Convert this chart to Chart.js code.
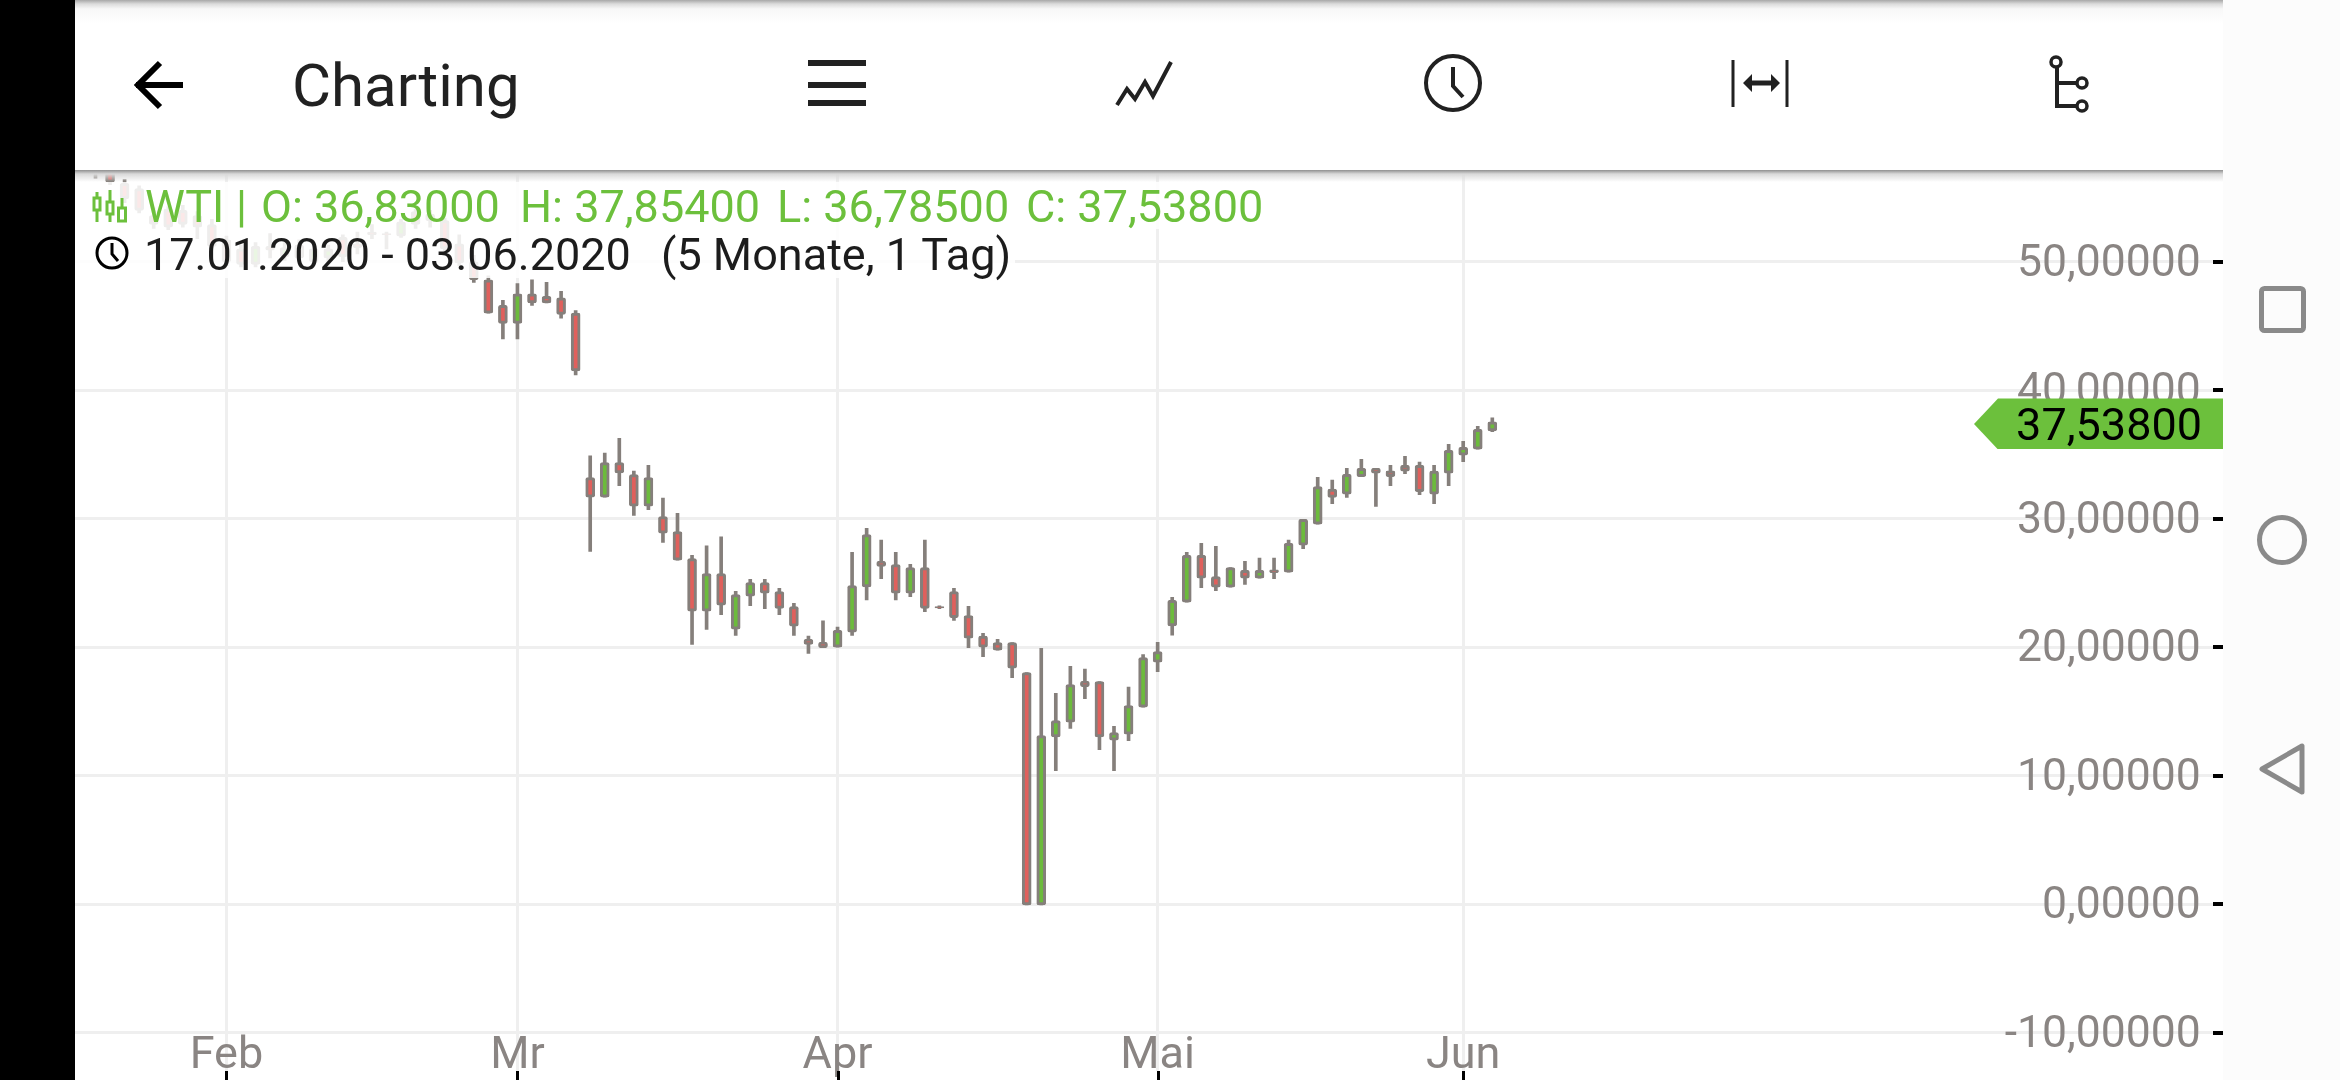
<!DOCTYPE html>
<html lang="de">
<head>
<meta charset="utf-8">
<title>Charting</title>
<script src="https://cdn.jsdelivr.net/npm/chart.js@4"></script>
<style>
html, body { margin: 0; padding: 0; width: 2340px; height: 1080px; overflow: hidden; background: #fff; font-family: Roboto, sans-serif; }
#chart { position: absolute; left: 0; top: 170px; z-index: 1; }
.blackbar { position: absolute; left: 0; top: 0; width: 75px; height: 1080px; background: #000; z-index: 6; }
.nav { position: absolute; left: 2223px; top: 0; width: 117px; height: 1080px; background: #fcfcfc; z-index: 5; }
.toolbar { position: absolute; left: 75px; top: 0; width: 2148px; height: 170px; background: #fff; z-index: 4; }
.topshade { position: absolute; left: 0; top: 0; width: 100%; height: 24px; background: linear-gradient(#a8a8a8 0, #dcdcdc 4px, #f8f8f8 9px, #fff 24px); }
.shadow { position: absolute; left: 75px; top: 170px; width: 2148px; height: 12px; background: linear-gradient(#8f8f8f, #d9d9d9 4px, rgba(255,255,255,0)); z-index: 4; }
.title { position: absolute; left: 217px; top: 51px; font-size: 60px; line-height: 70px; color: #212121; }
.row { position: absolute; left: 75px; background: rgba(255,255,255,0.86); z-index: 3; }
.txt { position: absolute; font-size: 45px; line-height: 50px; white-space: pre; z-index: 3; }
.green { color: #6cc03c; }
.dark { color: #1c1c1c; }
svg { position: absolute; overflow: visible; }
#tag { position: absolute; left: 1974px; width: 249px; height: 51px; background: #6cc03c; z-index: 3;
  clip-path: polygon(0 50%, 24px 0, 100% 0, 100% 100%, 24px 100%); }
#tag span { position: absolute; right: 21px; top: 1px; font-size: 45px; line-height: 51px; color: #000; }
</style>
</head>
<body>
<canvas id="chart" width="2223" height="910"></canvas>

<div class="row" style="top:182px;width:1190px;height:47px"></div>
<div class="row" style="top:229px;width:940px;height:49px"></div>
<div class="shadow"></div>

<div class="txt green" style="left:145px;top:182px">WTI</div>
<div class="txt green" style="left:236px;top:182px">|</div>
<div class="txt green" style="left:261px;top:182px">O: 36,83000</div>
<div class="txt green" style="left:520px;top:182px">H: 37,85400</div>
<div class="txt green" style="left:777px;top:182px">L: 36,78500</div>
<div class="txt green" style="left:1026px;top:182px">C: 37,53800</div>
<div class="txt dark" style="left:144px;top:230px">17.01.2020 - 03.06.2020</div>
<div class="txt dark" style="left:661px;top:230px">(5 Monate, 1 Tag)</div>

<!-- legend icons -->
<svg style="left:0;top:0;z-index:3" width="200" height="280" fill="none">
  <g stroke="#6cc03c" stroke-width="3">
    <path d="M97 192v30M110 190v32M122 198v24"/>
    <rect x="94" y="198" width="6" height="12" fill="#fff"/>
    <rect x="107" y="202" width="6" height="12" fill="#fff"/>
    <rect x="118.500" y="208" width="7" height="13" fill="#fff"/>
  </g>
  <circle cx="112" cy="253" r="15" stroke="#000" stroke-width="3"/>
  <path d="M112 243v11l6 7" stroke="#000" stroke-width="3"/>
</svg>

<div id="tag"><span id="tagText"></span></div>

<div class="toolbar">
  <div class="topshade"></div>
  <div class="title">Charting</div>
</div>
<svg style="left:0;top:0;z-index:4" width="2223" height="170" fill="none" stroke="#212121">
  <path d="M136 85h47M160 63l-22 22 22 22" stroke="#000" stroke-width="6"/>
  <path d="M808 63h58M808 85h58M808 103h58" stroke-width="6"/>
  <path d="M1117 105l10-16 8 10 10-17 8 14 18-34" stroke-width="4"/>
  <circle cx="1453" cy="83" r="27" stroke-width="4"/>
  <path d="M1453 67v19l10 11" stroke-width="4"/>
  <path d="M1733 60v47M1787 60v47" stroke-width="3"/>
  <path d="M1746 83h31" stroke-width="5"/>
  <path d="M1752 74l-9 9 9 9zM1771 74l9 9-9 9z" fill="#212121" stroke="none"/>
  <circle cx="2056" cy="62" r="5" stroke-width="3.500"/>
  <path d="M2057 68v38h20M2057 83h20" stroke-width="4"/>
  <circle cx="2082" cy="83" r="5" stroke-width="3.500"/>
  <circle cx="2082" cy="106" r="5" stroke-width="3.500"/>
</svg>

<div class="blackbar"></div>
<div class="nav"></div>
<svg style="left:0;top:0;z-index:6" width="2340" height="1080" fill="none" stroke="#8a8a8a" stroke-width="5" stroke-linejoin="round">
  <rect x="2261.500" y="288.500" width="42" height="42" rx="3"/>
  <circle cx="2282" cy="540" r="22.500"/>
  <path d="M2262 769l40-23v46z"/>
</svg>

<script>
// --- Data (daily candles) ---
const dates = [
  '17.01.', '20.01.', '21.01.', '22.01.', '23.01.', '24.01.', '27.01.', '28.01.', '29.01.', '30.01.', '31.01.',
  '03.02.', '04.02.', '05.02.', '06.02.', '07.02.', '10.02.', '11.02.', '12.02.', '13.02.', '14.02.',
  '17.02.', '18.02.', '19.02.', '20.02.', '21.02.', '24.02.', '25.02.', '26.02.', '27.02.', '28.02.',
  '02.03.', '03.03.', '04.03.', '05.03.', '06.03.', '09.03.', '10.03.', '11.03.', '12.03.', '13.03.',
  '16.03.', '17.03.', '18.03.', '19.03.', '20.03.', '23.03.', '24.03.', '25.03.', '26.03.', '27.03.', '30.03.', '31.03.',
  '01.04.', '02.04.', '03.04.', '06.04.', '07.04.', '08.04.', '09.04.', '10.04.', '13.04.', '14.04.', '15.04.', '16.04.', '17.04.',
  '20.04.', '21.04.', '22.04.', '23.04.', '24.04.', '27.04.', '28.04.', '29.04.', '30.04.',
  '01.05.', '04.05.', '05.05.', '06.05.', '07.05.', '08.05.', '11.05.', '12.05.', '13.05.', '14.05.', '15.05.',
  '18.05.', '19.05.', '20.05.', '21.05.', '22.05.', '25.05.', '26.05.', '27.05.', '28.05.', '29.05.',
  '01.06.', '02.06.', '03.06.'
];
const opens = [
  58.5, 58.5, 58.4, 58.3, 56.1, 55.7, 53.6, 54.1, 54.0, 53.6, 52.9,
  51.7, 51.0, 49.8, 51.2, 50.4, 51.3, 50.0, 50.3, 51.9, 51.4,
  52.3, 52.2, 52.0, 53.9, 53.7, 53.2, 51.4, 50.0, 48.6, 46.6,
  45.2, 47.5, 47.3, 47.2, 46.0, 33.20, 31.67, 34.37, 33.44, 30.97,
  30.17, 29.0, 26.90, 22.80, 25.73, 21.40, 23.97, 25.03, 24.33, 23.16, 20.62, 20.39,
  20.0, 21.17, 24.70, 26.69, 26.43, 24.20, 26.20, 23.16, 24.33, 22.46, 20.86, 20.36, 20.36,
  18.03, -0.05, 13.02, 14.16, 17.35, 17.33, 12.76, 13.23, 15.33,
  18.83, 21.66, 23.50, 27.16, 25.50, 24.67, 25.99, 25.37, 26.02, 25.84, 27.94,
  29.57, 32.30, 31.91, 33.28, 33.93, 33.72, 34.16, 34.16, 31.91, 33.54,
  34.94, 35.41, 36.83
];
const highs = [
  59.0, 58.9, 58.7, 58.5, 56.4, 55.9, 54.2, 54.3, 54.4, 53.9, 53.3,
  52.0, 51.3, 51.5, 52.2, 51.5, 51.7, 51.4, 51.3, 52.1, 52.3,
  52.9, 52.3, 53.3, 54.1, 54.0, 53.4, 52.1, 50.5, 48.9, 47.0,
  48.3, 48.6, 48.4, 47.7, 46.2, 34.89, 35.10, 36.26, 33.70, 34.16,
  31.60, 30.43, 27.16, 27.89, 28.59, 24.36, 25.29, 25.29, 24.59, 23.42, 20.86, 22.05,
  21.56, 27.39, 29.26, 28.33, 27.39, 26.46, 28.33, 23.22, 24.59, 23.19, 21.09, 20.62, 20.36,
  18.03, 19.92, 16.42, 18.52, 18.29, 17.33, 13.85, 16.89, 19.43,
  20.38, 23.88, 27.39, 28.09, 27.86, 26.20, 26.69, 26.93, 26.93, 28.33, 29.96,
  33.23, 33.00, 33.93, 34.63, 33.93, 34.16, 34.86, 34.40, 34.16, 35.80,
  36.03, 37.20, 37.854
];
const lows = [
  58.0, 58.2, 56.5, 56.0, 54.6, 53.8, 52.6, 52.5, 52.7, 51.8, 50.9,
  49.7, 49.6, 49.6, 50.3, 50.1, 50.1, 49.8, 49.9, 50.0, 50.6,
  51.8, 51.0, 51.9, 52.6, 52.7, 50.8, 49.7, 48.4, 46.0, 44.0,
  44.0, 46.6, 46.8, 45.6, 41.2, 27.45, 31.67, 32.58, 30.25, 30.71,
  28.15, 26.77, 20.21, 21.38, 22.54, 20.91, 23.24, 23.01, 22.54, 20.91, 19.51, 19.97,
  20.0, 20.91, 23.68, 25.34, 23.68, 23.94, 22.77, 23.01, 22.08, 19.97, 19.27, 19.77, 17.64,
  -0.05, -0.05, 10.40, 13.69, 16.0, 12.03, 10.40, 12.73, 15.33,
  18.10, 20.93, 23.50, 24.64, 24.41, 24.67, 24.88, 25.37, 25.34, 25.84, 27.68,
  29.57, 31.18, 31.65, 33.28, 30.95, 32.58, 33.51, 31.88, 31.18, 32.58,
  34.45, 35.41, 36.785
];
const closes = [
  58.6, 58.4, 58.3, 56.2, 54.9, 54.0, 52.9, 52.7, 52.9, 52.7, 51.2,
  50.0, 49.8, 51.2, 50.9, 51.1, 50.3, 51.0, 51.0, 50.4, 51.1,
  52.1, 52.1, 53.1, 52.9, 53.2, 51.0, 49.9, 48.6, 46.0, 45.2,
  47.5, 46.8, 46.8, 45.9, 41.5, 31.67, 34.37, 33.57, 30.97, 33.20,
  28.87, 26.77, 22.80, 25.73, 23.27, 24.10, 25.03, 24.20, 23.03, 21.63, 20.21, 19.97,
  21.32, 24.80, 28.77, 26.28, 24.20, 26.20, 23.03, 23.06, 22.31, 20.70, 20.0, 19.77, 18.37,
  -0.05, 13.12, 14.29, 17.09, 16.94, 13.02, 13.36, 15.46, 19.19,
  19.66, 23.65, 27.16, 25.37, 24.67, 26.20, 25.37, 25.99, 25.81, 28.09, 29.96,
  32.50, 31.65, 33.46, 33.93, 33.54, 33.28, 33.70, 32.11, 33.70, 35.33,
  35.56, 36.96, 37.538
];
const yTickValues = [-10, 0, 10, 20, 30, 40, 50];
const monthDates = ['03.02.', '02.03.', '01.04.', '01.05.', '01.06.'];
const monthLabels = ['Feb', 'Mr', 'Apr', 'Mai', 'Jun'];

const emptySlots = 50; // room right of the last candle

// --- Colours ---
const UP = '#6cbb3c';
const DOWN = '#e0605c';
const EDGE = '#857f7b';
const GRID = '#efefef';
const LABEL = '#8a8583';

const fmt = v => v.toFixed(5).replace('.', ',');
const labels = dates.concat(new Array(emptySlots).fill(''));

// --- Small tick marks and the price tag ---
const marksPlugin = {
    id: 'marks',
    afterDraw(chart) {
        const ctx = chart.ctx;
        const w = chart.width, h = chart.height;
        ctx.save();
        ctx.fillStyle = '#000';
        chart.scales.y.ticks.forEach(t => {
            const y = chart.scales.y.getPixelForValue(t.value);
            ctx.fillRect(w - 10, Math.round(y) - 2, 10, 4);
        });
        chart.scales.x.ticks.forEach(t => {
            const x = chart.scales.x.getPixelForValue(t.value);
            ctx.fillRect(Math.round(x) - 1, h - 9, 3, 9);
        });
        ctx.restore();

        const last = closes[closes.length - 1];
        const tag = document.getElementById('tag');
        tag.style.top = (170 + chart.scales.y.getPixelForValue(last) + 2 - 25.5) + 'px';
        document.getElementById('tagText').textContent = fmt(last);
    }
};

const chart = new Chart(document.getElementById('chart').getContext('2d'), {
    type: 'bar',
    data: {
        labels: labels,
        datasets: [
            {
                // bodies
                order: 1,
                data: opens.map((o, i) => [o, closes[i]]),
                backgroundColor: opens.map((o, i) => closes[i] >= o ? UP : DOWN),
                borderColor: EDGE,
                borderWidth: 3,
                borderSkipped: false,
                borderRadius: 2,
                barThickness: 9
            },
            {
                // wicks
                order: 2,
                data: lows.map((l, i) => [l, highs[i]]),
                backgroundColor: EDGE,
                borderWidth: 0,
                barThickness: 3
            }
        ]
    },
    options: {
        responsive: false,
        animation: false,
        events: [],
        grouped: false,
        layout: { autoPadding: false, padding: { left: 66.4, right: 3.2, top: 0, bottom: 0 } },
        plugins: { legend: { display: false }, tooltip: { enabled: false } },
        scales: {
            x: {
                type: 'category',
                offset: false,
                afterBuildTicks: s => { s.ticks = monthDates.map(d => ({ value: dates.indexOf(d) })); },
                afterFit: s => { s.height = 46; s.paddingLeft = 0; s.paddingRight = 0; },
                border: { display: false },
                grid: { offset: false, color: GRID, lineWidth: 3, tickLength: 37, tickColor: GRID, tickWidth: 3 },
                ticks: {
                    autoSkip: false,
                    maxRotation: 0,
                    padding: -41,
                    color: LABEL,
                    font: { family: 'Roboto', size: 45 },
                    callback: v => monthLabels[monthDates.indexOf(dates[v])]
                }
            },
            y: {
                position: 'right',
                min: -10.10,
                max: 57.14,
                afterBuildTicks: s => { s.ticks = yTickValues.map(v => ({ value: v })); },
                afterFit: s => { s.width = 0; s.paddingTop = 0; s.paddingBottom = 0; },
                border: { display: false },
                grid: { color: GRID, lineWidth: 3, drawTicks: false },
                ticks: {
                    mirror: true,
                    padding: -19,
                    labelOffset: 3,
                    color: LABEL,
                    font: { family: 'Roboto', size: 44.5 },
                    callback: v => fmt(v)
                }
            }
        }
    },
    plugins: [marksPlugin]
});
</script>
</body>
</html>
